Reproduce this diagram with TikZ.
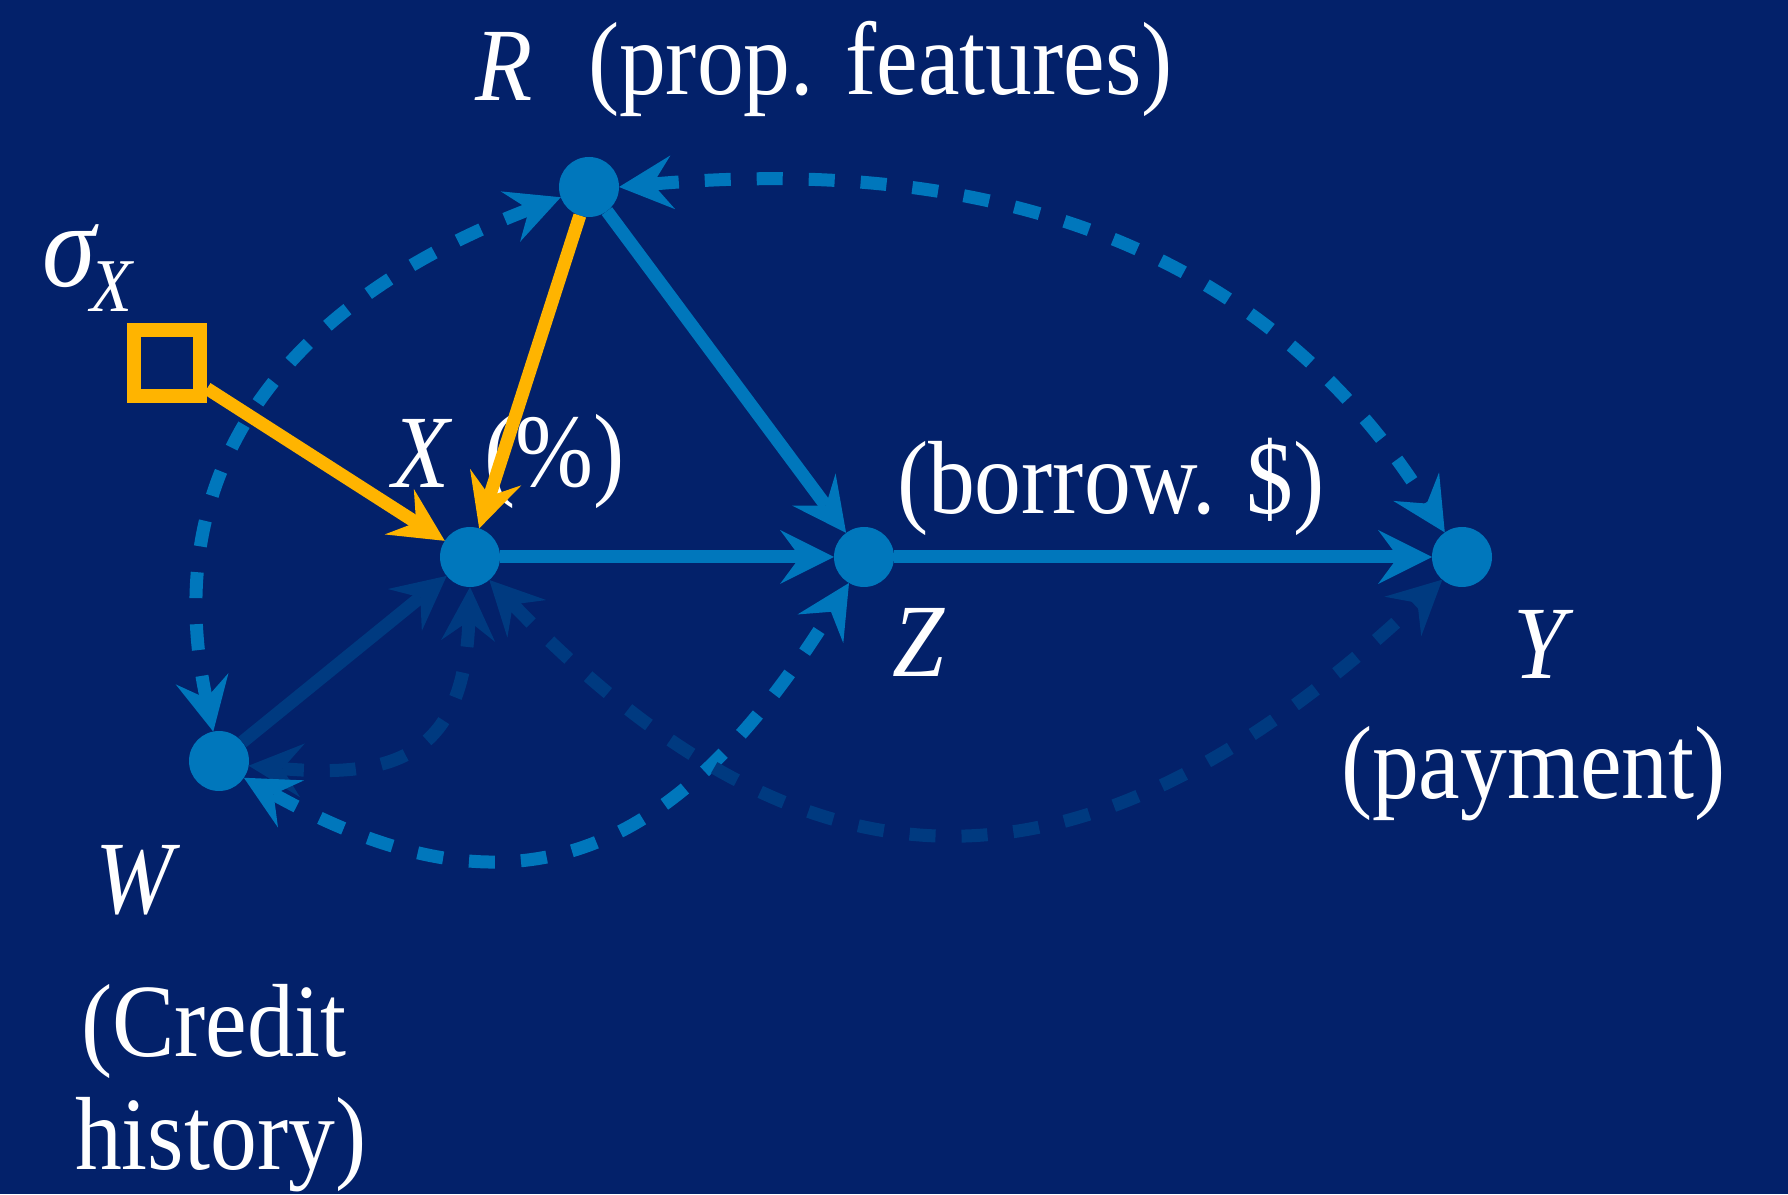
\documentclass[tikz,border=0pt]{standalone}
\usepackage{fontspec}
\setmainfont{Liberation Serif}[FakeStretch=0.9]
\usetikzlibrary{arrows.meta}
\definecolor{bg}{RGB}{3,33,106}
\definecolor{nodeblue}{RGB}{0,119,188}
\definecolor{darkblue}{RGB}{0,58,128}
\definecolor{orng}{RGB}{255,180,0}
\begin{document}
\begin{tikzpicture}[x=0.5pt,y=0.5pt,
  >={Stealth[length=27pt,width=27pt,inset=10pt,line width=0pt]},
  dot/.style={circle,fill=nodeblue,minimum size=30pt,inner sep=0pt,outer sep=0pt},
  sqbox/.style={draw=orng,line width=7pt,minimum size=33pt,inner sep=0pt},
  lbl/.style={text=white,inner sep=0pt,outer sep=0pt,anchor=base west,font=\fontsize{52}{60}\selectfont},
  solidblue/.style={draw=nodeblue,line width=6.5pt,->},
  soliddark/.style={draw=darkblue,line width=6.5pt,->},
  solidorange/.style={draw=orng,line width=6.5pt,->},
  dashlight/.style={draw=nodeblue,line width=6.5pt,dash pattern=on 13pt off 13pt,<->},
  dashdark/.style={draw=darkblue,line width=6.5pt,dash pattern=on 13pt off 13pt,<->}]
\fill[bg] (0,0) rectangle (1788,1194);
\useasboundingbox (0,0) rectangle (1788,1194);
% nodes
\node[dot] (R) at (589,1007) {};
\node[dot] (X) at (470,637) {};
\node[dot] (Z) at (864,637) {};
\node[dot] (Y) at (1462,637) {};
\node[dot] (W) at (219,433) {};
\node[sqbox] (S) at (167,831) {};
% labels
\node[lbl] (tR) at (475,1093) {\textit{R}};
\node[lbl] (tRd) at (588,1099) {(prop. features)};
\node[lbl,font=\fontsize{60}{66}\selectfont] (tsig) at (42,907) {\textit{σ}};
\node[lbl,font=\fontsize{38}{44}\selectfont] (tsub) at (90,882) {\textit{X}};
\node[lbl] (tX) at (392,706) {\textit{X}};
\node[lbl] (tXd) at (484,707) {(\%)};
\node[lbl] (tZd) at (897,680) {(borrow. \$)};
\node[lbl] (tZ) at (892,517) {\textit{Z}};
\node[lbl] (tY) at (1513,515) {\textit{Y}};
\node[lbl] (tYd) at (1341,395) {(payment)};
\node[lbl] (tW) at (95,280) {\textit{W}};
\node[lbl] (tW1) at (81,137) {(Credit};
\node[lbl] (tW2) at (75,25) {history)};
% dashed bidirected curves
\draw[dashlight] (R.200) .. controls +(201:280) and +(102:280) .. (W.101);
\draw[dashlight] (R.0) .. controls +(5:420) and +(122:300) .. (Y.125);
\draw[dashdark] (X.270) .. controls +(268:166) and +(-5:150) .. (W.351);
\draw[dashlight] (W.326) .. controls +(331:300) and +(238:340) .. (Z.240);
\draw[dashdark] (X.310) .. controls +(314:463) and +(223:491) .. (Y.229);
% solid edges
\draw[solidblue] (R) -- (Z);
\draw[solidblue] (X) -- (Z);
\draw[solidblue] (Z) -- (Y);
\draw[soliddark] (W) -- (X);
\draw[solidorange] (S) -- (X);
\draw[solidorange] (R) -- (X);
\end{tikzpicture}
\end{document}
